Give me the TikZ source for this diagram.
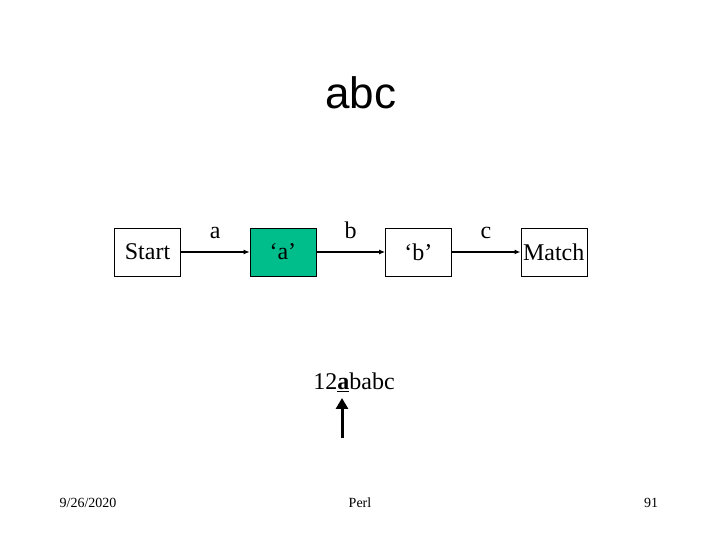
\documentclass[tikz,border=0pt]{standalone}
\usepackage{fontspec}
\setmainfont{Liberation Serif}
\newfontfamily\titlefont{Liberation Sans}
\usetikzlibrary{arrows.meta, positioning}

\definecolor{stategreen}{RGB}{0,190,140}

\begin{document}
\begin{tikzpicture}[
    x=1pt, y=1pt,
    node distance=69pt,
    state/.style={rectangle, draw, thin, minimum width=66pt, minimum height=48pt, inner sep=0pt, font=\fontsize{24}{28}\selectfont},
    edge/.style={-{Latex[length=6pt, width=5pt]}, line width=1.5pt},
    lbl/.style={midway, anchor=base, yshift=13pt, font=\fontsize{24}{28}\selectfont},
    footer/.style={font=\fontsize{14}{16}\selectfont}
]
\useasboundingbox (0,0) rectangle (720,540);

% Title
\node[font=\titlefont\fontsize{44}{50}\selectfont] (title) at (361,447) {abc};

% States
\node[state] (start) at (147.5,288) {Start};
\node[state, fill=stategreen, right=of start] (sa) {`a'};
\node[state, right=of sa] (sb) {`b'};
\node[state, right=of sb] (match) {Match};

% Transitions
\draw[edge] (start) -- node[lbl] {a} (sa);
\draw[edge] (sa) -- node[lbl] {b} (sb);
\draw[edge] (sb) -- node[lbl] {c} (match);

% Input string and pointer
\node[font=\fontsize{24}{28}\selectfont] (input) at (354,158) {12\underline{\textbf{a}}babc};
\coordinate (ptr) at (342,102);
\draw[-{Triangle[length=11pt, width=12pt]}, line width=3pt] (ptr) -- ++(0,40);

% Footer
\node[footer] (date) at (88,37) {9/26/2020};
\node[footer] (topic) at (360,37) {Perl};
\node[footer] (page) at (651,37) {91};
\end{tikzpicture}
\end{document}
